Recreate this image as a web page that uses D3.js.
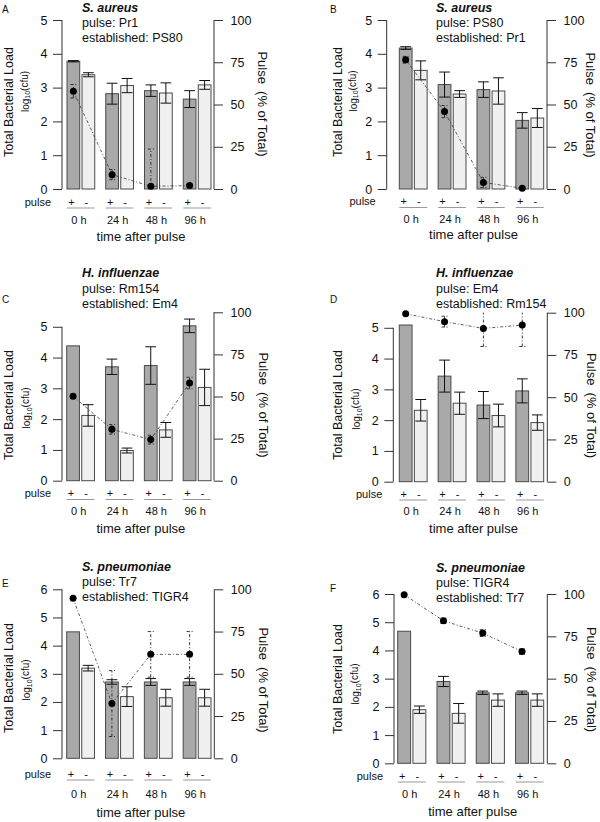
<!DOCTYPE html>
<html>
<head>
<meta charset="utf-8">
<script src="https://cdn.jsdelivr.net/npm/d3@7"></script>
<style>
  body { margin: 0; background: #fff; }
  text { font-family: "Liberation Sans", Arial, sans-serif; fill: #111; }
</style>
</head>
<body>
<script>
var width = 600;
var height = 822;

// categories
var times = ["0 h", "24 h", "48 h", "96 h"];
var signs = ["+", "-"];
var panelLetters = ["A", "B", "C", "D", "E", "F"];
var species = ["S. aureus", "S. aureus", "H. influenzae", "H. influenzae", "S. pneumoniae", "S. pneumoniae"];
var pulseStrain = ["Pr1", "PS80", "Rm154", "Em4", "Tr7", "TIGR4"];
var establishedStrain = ["PS80", "Pr1", "Em4", "Rm154", "TIGR4", "Tr7"];

// tick labels
var loadTicks = [[0,1,2,3,4,5],[0,1,2,3,4,5],[0,1,2,3,4,5],[0,1,2,3,4,5],[0,1,2,3,4,5,6],[0,1,2,3,4,5,6]];
var pctTicks = [0, 25, 50, 75, 100];

// total bacterial load, log10(cfu) -- pulse (+) bars and established (-) bars
var pulseLoad    = [[3.78,2.82,2.91,2.66],[4.17,3.09,2.94,2.03],[4.38,3.70,3.74,5.03],[5.09,3.43,2.49,2.95],[4.49,2.71,2.71,2.71],[4.68,2.90,2.50,2.50]];
var pulseLoadErr = [[0.02,0.31,0.17,0.25],[0.04,0.37,0.23,0.23],[0,0.25,0.61,0.22],[0,0.52,0.44,0.39],[0,0.08,0.12,0.12],[0,0.18,0.06,0.06]];
var estLoad      = [[3.38,3.06,2.84,3.08],[3.51,2.81,2.90,2.10],[2.12,0.98,1.65,3.03],[2.32,2.55,2.15,1.92],[3.20,2.19,2.15,2.15],[1.90,1.77,2.24,2.24]];
var estLoadErr   = [[0.06,0.21,0.30,0.13],[0.28,0.10,0.39,0.28],[0.35,0.08,0.24,0.59],[0.35,0.36,0.37,0.25],[0.10,0.35,0.30,0.30],[0.13,0.35,0.22,0.22]];

// pulse strain as % of total
var pulsePct    = [[57.8,8.5,1.6,2],[76.5,45.8,3.9,0.4],[50.1,30.5,24.4,58],[99.4,94.7,90.7,92.7],[94.7,32.4,61.5,61.5],[99.6,84.2,76.9,66]];
var pulsePctErr = [[4,3,22,0],[2,3.6,3,0],[0,2.8,2.6,3.4],[0,3.2,10.7,12.7],[0,19.5,13.5,13.5],[0,1.5,2,1.5]];

// where each panel sits on the page
var layout = [
  {left:62,    right:214,   bx0:67,    bx1:211,   y0:189,   yTop:20,    loadMax:5,    tx:82,  ty:11.5,  lx:2,   ly:13,  rowY:202,   timeY:220,   xtY:236, ylx:8.3,   logx:25,    ylY:102, logY:91.5, rlx:263,   rlY:104},
  {left:386.7, right:547,   bx0:399.3, bx1:543.7, y0:189,   yTop:20,    loadMax:5,    tx:436, ty:11.5,  lx:330, ly:13,  rowY:201.5, timeY:219.5, xtY:234, ylx:337.5, logx:353,   ylY:102, logY:91,   rlx:590.5, rlY:105},
  {left:62,    right:214,   bx0:66.7,  bx1:211,   y0:480.7, yTop:312.3, loadMax:5.47, tx:82,  ty:277.3, lx:2,   ly:303, rowY:493.5, timeY:511.5, xtY:528, ylx:8.3,   logx:26.7,  ylY:405, logY:408,  rlx:264,   rlY:405},
  {left:393.3, right:547.3, bx0:399.3, bx1:543.7, y0:481.7, yTop:312.7, loadMax:5.49, tx:436, ty:277.3, lx:330, ly:303, rowY:494,   timeY:511,   xtY:528, ylx:337.5, logx:356.7, ylY:405, logY:409,  rlx:591.7, rlY:405.5},
  {left:62,    right:214.3, bx0:66.7,  bx1:211,   y0:758.3, yTop:589.3, loadMax:6,    tx:82,  ty:570.7, lx:2,   ly:587, rowY:774,   timeY:794,   xtY:812, ylx:8.3,   logx:26.7,  ylY:678, logY:680,  rlx:264,   rlY:680},
  {left:394,   right:547.3, bx0:397.7, bx1:543.7, y0:763.3, yTop:594,   loadMax:6,    tx:436, ty:571.7, lx:330, ly:592, rowY:776,   timeY:794,   xtY:811, ylx:337.5, logx:355.7, ylY:679, logY:684,  rlx:592,   rlY:679.5}
];

var svg = d3.select("body").append("svg").attr("width", width).attr("height", height);

var dashDot = "3,2,1,2";

var drawPanel = function(p) {
  var L = layout[p];
  var g = svg.append("g");

  var xGroup = d3.scaleBand().domain(times).range([L.bx0, L.bx1]).paddingInner(0.284).paddingOuter(0);
  var xSign = d3.scaleBand().domain(signs).range([0, xGroup.bandwidth()]).paddingInner(0.153).paddingOuter(0);
  var yLoad = d3.scaleLinear().domain([0, L.loadMax]).range([L.y0, L.yTop]);
  var yPct = d3.scaleLinear().domain([0, 100]).range([L.y0, L.yTop]);
  var bw = xSign.bandwidth();

  // left axis
  var ticksL = loadTicks[p];
  var axL = g.append("g").attr("transform", "translate(" + L.left + ",0)")
    .call(d3.axisLeft(yLoad).tickValues(ticksL).tickFormat(d3.format("d")).tickSize(9).tickSizeOuter(0).tickPadding(5.5));
  axL.select(".domain").remove();
  axL.append("line").attr("x1", 0).attr("x2", 0)
    .attr("y1", yLoad(0)).attr("y2", yLoad(d3.max(ticksL)));
  axL.selectAll("line").attr("stroke", "#333");
  axL.selectAll("text").attr("font-size", 12.5).attr("font-family", "Liberation Sans, Arial, sans-serif").attr("fill", "#111");

  // right axis
  var axR = g.append("g").attr("transform", "translate(" + L.right + ",0)")
    .call(d3.axisRight(yPct).tickValues(pctTicks).tickFormat(d3.format("d")).tickSize(9).tickSizeOuter(0).tickPadding(7.5));
  axR.select(".domain").remove();
  axR.append("line").attr("x1", 0).attr("x2", 0).attr("y1", yPct(0)).attr("y2", yPct(100));
  axR.selectAll("line").attr("stroke", "#333");
  axR.selectAll("text").attr("font-size", 12.5).attr("font-family", "Liberation Sans, Arial, sans-serif").attr("fill", "#111");

  // bars
  var bars = [];
  times.forEach(function(t, i) {
    bars.push({t: t, s: "+", v: pulseLoad[p][i], e: pulseLoadErr[p][i]});
    bars.push({t: t, s: "-", v: estLoad[p][i], e: estLoadErr[p][i]});
  });

  g.selectAll("rect.bar").data(bars).enter().append("rect")
    .attr("class", "bar")
    .attr("x", function(d) { return xGroup(d.t) + xSign(d.s); })
    .attr("y", function(d) { return yLoad(d.v); })
    .attr("width", bw)
    .attr("height", function(d) { return yLoad(0) - yLoad(d.v); })
    .attr("fill", function(d) { return d.s == "+" ? "#a9a9a9" : "#f0f0f0"; })
    .attr("stroke", "#4a4a4a")
    .attr("stroke-width", 1);

  // error bars on the bars
  var withErr = bars.filter(function(d) { return d.e > 0; });
  var eb = g.selectAll("g.err").data(withErr).enter().append("g").attr("class", "err")
    .attr("stroke", "#111").attr("stroke-width", 1);
  eb.append("line")
    .attr("x1", function(d) { return xGroup(d.t) + xSign(d.s) + bw / 2; })
    .attr("x2", function(d) { return xGroup(d.t) + xSign(d.s) + bw / 2; })
    .attr("y1", function(d) { return yLoad(d.v - d.e); })
    .attr("y2", function(d) { return yLoad(d.v + d.e); });
  [-1, 1].forEach(function(k) {
    eb.append("line")
      .attr("x1", function(d) { return xGroup(d.t) + xSign(d.s) + 1; })
      .attr("x2", function(d) { return xGroup(d.t) + xSign(d.s) + bw - 1; })
      .attr("y1", function(d) { return yLoad(d.v + k * d.e); })
      .attr("y2", function(d) { return yLoad(d.v + k * d.e); });
  });

  // pulse % points
  var pts = times.map(function(t, i) {
    return {t: t, v: pulsePct[p][i], e: pulsePctErr[p][i]};
  });
  var px = function(d) { return xGroup(d.t) + xSign("+") + bw / 2; };

  g.append("path").datum(pts)
    .attr("d", d3.line().x(px).y(function(d) { return yPct(d.v); }))
    .attr("fill", "none").attr("stroke", "#333").attr("stroke-width", 0.8)
    .attr("stroke-dasharray", dashDot);

  var pe = g.selectAll("g.perr").data(pts.filter(function(d) { return d.e > 0; })).enter()
    .append("g").attr("class", "perr")
    .attr("stroke", "#222").attr("stroke-width", 0.9).attr("stroke-dasharray", dashDot);
  pe.append("line")
    .attr("x1", px).attr("x2", px)
    .attr("y1", function(d) { return yPct(Math.max(0, d.v - d.e)); })
    .attr("y2", function(d) { return yPct(Math.min(100, d.v + d.e)); });
  pe.filter(function(d) { return d.v - d.e > 0; }).append("line")
    .attr("x1", function(d) { return px(d) - 3; }).attr("x2", function(d) { return px(d) + 3; })
    .attr("y1", function(d) { return yPct(d.v - d.e); }).attr("y2", function(d) { return yPct(d.v - d.e); });
  pe.filter(function(d) { return d.v + d.e < 100; }).append("line")
    .attr("x1", function(d) { return px(d) - 3; }).attr("x2", function(d) { return px(d) + 3; })
    .attr("y1", function(d) { return yPct(d.v + d.e); }).attr("y2", function(d) { return yPct(d.v + d.e); });

  g.selectAll("circle").data(pts).enter().append("circle")
    .attr("cx", px).attr("cy", function(d) { return yPct(d.v); })
    .attr("r", 3.5).attr("fill", "#000");

  // pulse +/- row under the bars
  g.append("text").attr("x", L.left - 11).attr("y", L.rowY).attr("dy", "0.35em")
    .attr("text-anchor", "end").attr("font-size", 11).text("pulse");
  times.forEach(function(t) {
    signs.forEach(function(s) {
      g.append("text").attr("x", xGroup(t) + xSign(s) + bw / 2 - 2).attr("y", L.rowY).attr("dy", "0.35em")
        .attr("text-anchor", "middle").attr("font-size", 11).text(s);
    });
    g.append("line").attr("x1", xGroup(t)).attr("x2", xGroup(t) + xGroup.bandwidth())
      .attr("y1", L.rowY + 6).attr("y2", L.rowY + 6)
      .attr("stroke", "#999").attr("stroke-width", 1);
    g.append("text").attr("x", xGroup(t) + xGroup.bandwidth() / 2 - 2).attr("y", L.timeY).attr("dy", "0.35em")
      .attr("text-anchor", "middle").attr("font-size", 11).text(t);
  });
  g.append("text").attr("x", (L.bx0 + L.bx1) / 2 + 2).attr("y", L.xtY).attr("dy", "0.35em")
    .attr("text-anchor", "middle").attr("font-size", 13).text("time after pulse");

  // y labels
  g.append("text").attr("transform", "translate(" + L.ylx + "," + L.ylY + ") rotate(-90)")
    .attr("dy", "0.35em").attr("text-anchor", "middle").attr("font-size", 12.5).text("Total Bacterial Load");
  var lg = g.append("text").attr("transform", "translate(" + L.logx + "," + L.logY + ") rotate(-90)")
    .attr("dy", "0.35em").attr("text-anchor", "middle").attr("font-size", 10);
  lg.append("tspan").text("log");
  lg.append("tspan").attr("font-size", 7).attr("dy", "0.25em").text("10");
  lg.append("tspan").attr("dy", "-0.25em").text("(cfu)");
  g.append("text").attr("transform", "translate(" + L.rlx + "," + L.rlY + ") rotate(90)")
    .attr("dy", "0.35em").attr("text-anchor", "middle").attr("font-size", 13).text("Pulse\u00a0 (% of Total)");

  // title block
  g.append("text").attr("x", L.tx).attr("y", L.ty).attr("font-size", 12.5)
    .attr("font-weight", "bold").attr("font-style", "italic").text(species[p]);
  g.append("text").attr("x", L.tx).attr("y", L.ty + 15.3).attr("font-size", 12.5).text("pulse: " + pulseStrain[p]);
  g.append("text").attr("x", L.tx).attr("y", L.ty + 30.6).attr("font-size", 12.5).text("established: " + establishedStrain[p]);

  // panel letter
  g.append("text").attr("x", L.lx).attr("y", L.ly).attr("font-size", 10).text(panelLetters[p]);
};

d3.range(6).forEach(drawPanel);
</script>
</body>
</html>
